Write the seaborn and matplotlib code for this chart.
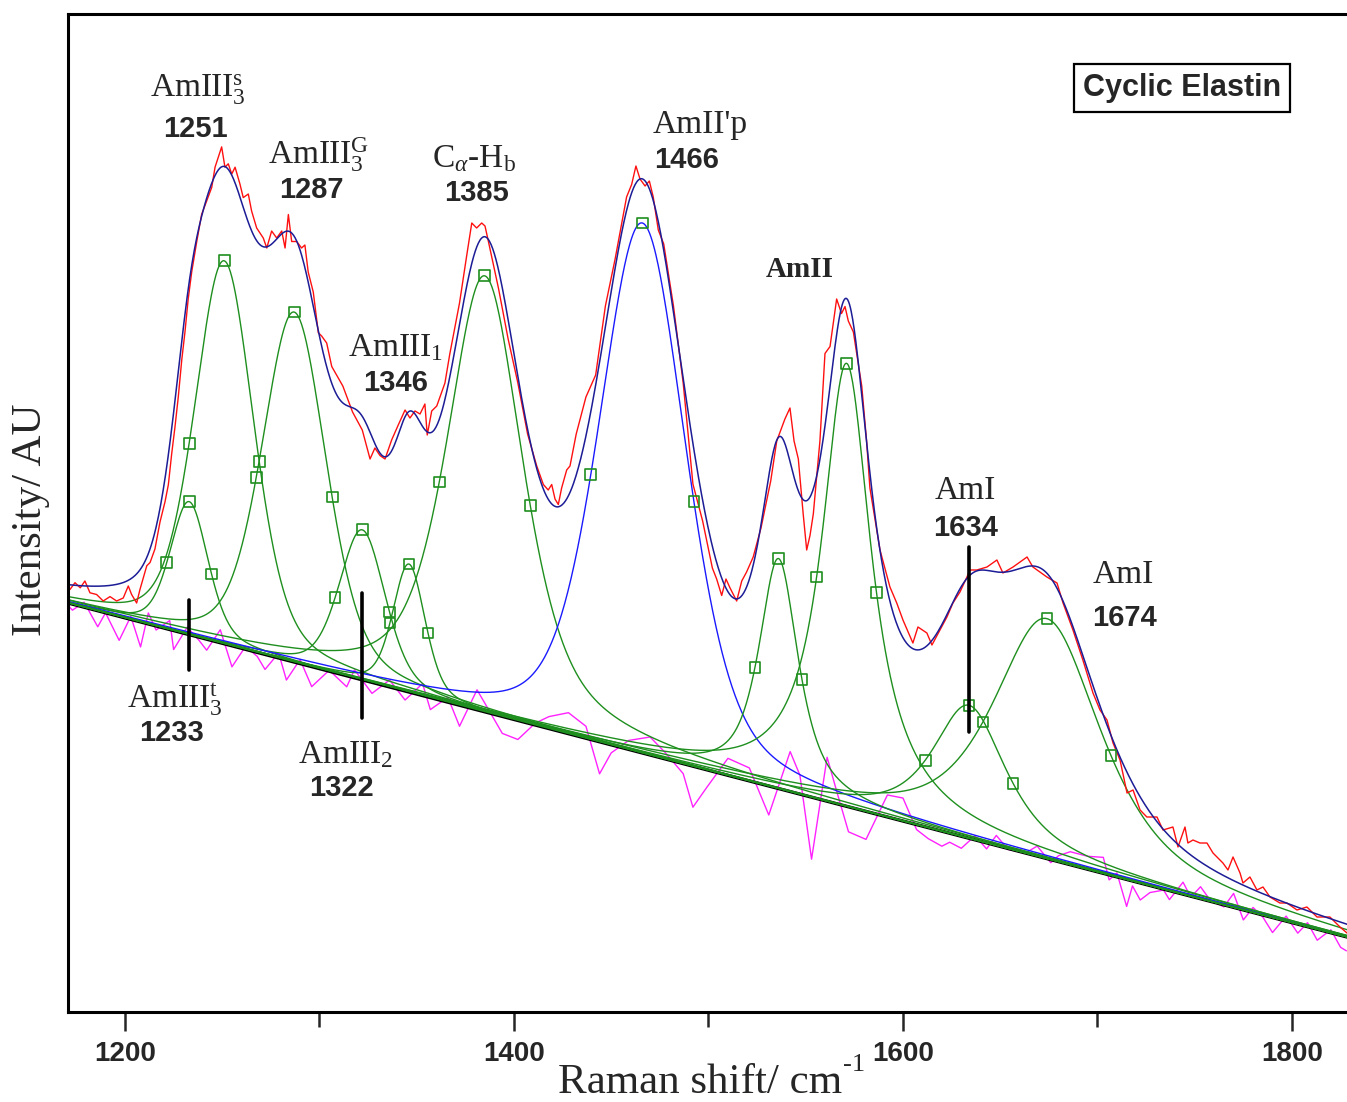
import numpy as np
import pandas as pd
import matplotlib
matplotlib.use("Agg")
import matplotlib.pyplot as plt
import seaborn as sns

# ---------------- data ----------------
peak_centers = [1233, 1251, 1287, 1322, 1346, 1385, 1466, 1536, 1571, 1634, 1674]
peak_heights = [13.3, 38.3, 35.0, 15.0, 12.8, 43.6, 53.0, 23.0, 44.3, 13.3, 24.0]
peak_hwhm = [11.5, 18.0, 19.5, 14.0, 9.8, 23.4, 26.5, 12.1, 15.4, 22.6, 32.9]
peak_lorentz_fraction = [0.35, 0.35, 0.35, 0.35, 0.35, 0.6, 0.37, 0.8, 1.0, 0.8, 0.7]
peak_is_blue = [False, False, False, False, False, False, True, False, False, False, False]

baseline_x = [1170.7, 1828.3]
baseline_y = [40.9, 7.5]

# measured spectrum (red trace): Raman shift / cm-1 and intensity
spectrum_x = [
    1171.7, 1174.3, 1177.0, 1179.4, 1182.0, 1185.4, 1188.8, 1192.3, 1195.7, 1199.1,
    1201.7, 1203.4, 1206.0, 1207.7, 1211.2, 1212.9, 1215.4, 1218.0, 1220.6, 1222.3,
    1224.0, 1225.7, 1227.4, 1229.2, 1230.8, 1232.5, 1234.3, 1236.9, 1239.4, 1242.0,
    1244.6, 1246.3, 1248.0, 1249.7, 1251.4, 1253.1, 1254.9, 1256.6, 1259.1, 1260.8,
    1263.4, 1265.1, 1267.7, 1271.1, 1272.9, 1275.4, 1278.0, 1280.6, 1282.3, 1284.0,
    1285.7, 1288.3, 1290.8, 1292.5, 1294.2, 1296.8, 1299.4, 1301.1, 1303.7, 1306.3,
    1312.0, 1317.0, 1322.0, 1326.0, 1328.5, 1331.1, 1333.7, 1337.1, 1340.5, 1344.0,
    1346.5, 1349.1, 1351.7, 1354.2, 1355.4, 1357.7, 1360.3, 1364.5, 1367.0, 1372.0,
    1375.7, 1378.3, 1380.8, 1383.4, 1385.1, 1386.8, 1392.0, 1397.0, 1402.0, 1407.0,
    1411.7, 1415.1, 1417.6, 1419.4, 1421.1, 1422.8, 1424.5, 1427.1, 1428.8, 1432.0,
    1437.0, 1442.0, 1447.0, 1452.0, 1457.9, 1460.5, 1462.7, 1464.8, 1467.4, 1469.6,
    1471.6, 1474.2, 1477.0, 1482.0, 1487.0, 1492.0, 1497.0, 1502.0, 1504.2, 1506.8,
    1509.0, 1511.1, 1514.5, 1517.1, 1519.6, 1523.0, 1527.0, 1532.0, 1535.1, 1539.3,
    1541.9, 1544.0, 1546.2, 1548.7, 1550.5, 1552.2, 1553.9, 1557.3, 1559.9, 1562.5,
    1565.9, 1568.4, 1570.2, 1571.9, 1574.5, 1576.2, 1578.8, 1581.3, 1583.0, 1588.2,
    1593.3, 1596.8, 1600.0, 1605.1, 1607.7, 1612.3, 1614.9, 1619.0, 1622.6, 1625.7,
    1629.3, 1632.9, 1634.4, 1638.0, 1643.2, 1648.3, 1651.4, 1656.6, 1663.8, 1666.8,
    1674.0, 1679.2, 1682.3, 1687.4, 1692.5, 1697.7, 1701.3, 1704.9, 1708.0, 1711.6,
    1715.2, 1718.3, 1721.9, 1725.4, 1730.6, 1733.7, 1738.8, 1741.4, 1745.0, 1746.5,
    1749.1, 1752.7, 1756.3, 1759.4, 1764.5, 1767.1, 1769.7, 1773.3, 1774.8, 1778.4,
    1782.0, 1785.1, 1788.7, 1793.8, 1797.4, 1802.6, 1807.7, 1812.9, 1819.5, 1824.7,
    1828.3,
]
spectrum_y = [
    42.25, 42.93, 42.42, 43.10, 41.92, 41.75, 41.10, 41.54, 41.10, 41.40,
    42.60, 41.75, 40.90, 42.25, 44.62, 44.95, 46.30, 49.00, 51.04, 52.73,
    55.80, 58.50, 61.50, 65.23, 67.93, 71.30, 74.00, 77.05, 79.75, 81.10,
    82.46, 84.48, 85.50, 86.51, 84.48, 84.82, 83.80, 84.48, 82.80, 81.44,
    81.80, 80.10, 78.40, 77.40, 76.40, 78.10, 77.40, 78.10, 76.40, 79.75,
    77.05, 77.05, 76.40, 76.70, 74.00, 72.00, 67.93, 67.60, 66.90, 64.55,
    62.60, 60.00, 58.20, 55.30, 56.40, 55.65, 55.30, 57.20, 58.70, 60.20,
    59.40, 60.10, 59.80, 60.80, 57.70, 60.10, 60.60, 62.90, 65.80, 70.90,
    75.65, 78.90, 78.40, 78.90, 78.60, 77.10, 72.40, 67.30, 62.90, 57.80,
    54.60, 52.75, 52.20, 52.75, 51.30, 50.75, 52.40, 54.20, 54.60, 57.80,
    61.50, 63.70, 70.60, 75.30, 81.50, 82.75, 84.60, 83.30, 82.60, 83.10,
    81.50, 78.20, 76.80, 70.60, 62.90, 52.80, 49.10, 44.40, 43.30, 41.65,
    43.30, 42.40, 41.10, 43.10, 44.00, 45.50, 48.40, 53.10, 57.10, 59.30,
    60.40, 57.10, 55.30, 49.80, 46.20, 47.65, 49.80, 57.10, 65.85, 66.55,
    71.30, 69.85, 70.55, 69.10, 68.00, 65.85, 62.60, 57.10, 52.40, 46.20,
    42.50, 40.90, 39.20, 36.90, 38.50, 37.90, 36.70, 38.20, 39.50, 40.90,
    42.00, 43.50, 44.20, 44.20, 44.50, 45.20, 43.90, 44.50, 45.50, 44.50,
    43.50, 42.90, 40.90, 38.20, 35.20, 31.90, 30.20, 29.20, 26.90, 25.20,
    21.90, 22.20, 20.20, 19.50, 19.50, 18.20, 18.50, 16.50, 18.50, 16.90,
    17.20, 16.90, 16.90, 15.90, 14.90, 14.20, 15.50, 13.90, 12.90, 13.50,
    12.20, 12.50, 11.50, 10.90, 10.90, 10.20, 10.50, 9.50, 9.50, 8.50,
    7.90,
]

# fit residual (magenta trace), shown about the baseline
residual_x = [
    1171, 1173, 1179, 1186, 1190, 1197, 1203, 1208, 1212, 1216,
    1223, 1225, 1232, 1238, 1242, 1249, 1255, 1262, 1268, 1272,
    1279, 1283, 1290, 1296, 1305, 1314, 1318, 1327, 1336, 1344,
    1353, 1357, 1366, 1372, 1381, 1387, 1394, 1402, 1411, 1418,
    1428, 1437, 1444, 1450, 1459, 1470, 1478, 1487, 1492, 1499,
    1510, 1521, 1531, 1542, 1547, 1553, 1561, 1566, 1572, 1581,
    1592, 1600, 1607, 1613, 1620, 1624, 1630, 1637, 1643, 1648,
    1654, 1663, 1669, 1676, 1680, 1686, 1695, 1703, 1706, 1710,
    1715, 1718, 1722, 1727, 1734, 1737, 1744, 1748, 1753, 1758,
    1765, 1770, 1775, 1780, 1785, 1790, 1797, 1803, 1808, 1813,
    1820, 1825, 1828,
]
residual_y = [
    -0.3, -0.6, 0.5, -1.6, 0.0, -2.4, 0.3, -2.5, 1.1, -0.4,
    0.9, -1.9, 0.7, -0.3, -1.1, 1.3, -2.1, 0.3, -0.4, -1.5,
    0.5, -2.0, 0.4, -2.0, 0.1, -1.1, 0.8, -1.1, 0.7, -0.9,
    1.2, -1.2, 0.5, -2.1, 2.0, 0.3, -1.7, -1.9, 0.2, 1.2,
    2.1, 1.2, -3.2, -0.8, 0.9, 1.8, 0.6, -1.0, -4.1, -1.8,
    1.7, 1.3, -2.9, 4.0, 1.9, -6.2, 4.4, 1.2, -2.5, -2.8,
    2.2, 2.3, -0.5, -1.1, -1.5, -0.9, -1.2, 0.4, -0.6, 1.0,
    -0.1, 0.0, 1.0, -0.3, 0.6, 1.3, 1.3, 1.6, -0.5, 0.4,
    -2.7, -0.5, -1.7, -0.7, -0.1, -0.9, 1.2, -0.1, 1.2, 0.1,
    -0.2, 1.4, -1.0, 0.5, -0.2, -1.5, 0.5, -0.9, 0.4, -1.1,
    0.3, -1.2, -1.4,
]

x_ticks_major = [1200, 1400, 1600, 1800]
x_ticks_minor = [1300, 1500, 1700]

# ---------------- style ----------------
sns.set_style("white")
plt.rcParams["font.family"] = ["Liberation Sans", "DejaVu Sans"]
plt.rcParams["mathtext.fontset"] = "custom"
plt.rcParams["mathtext.rm"] = "Liberation Serif"
plt.rcParams["mathtext.it"] = "Liberation Serif:italic"
plt.rcParams["mathtext.bf"] = "Liberation Serif:bold"

W, H = 1347, 1102
fig = plt.figure(figsize=(W / 100, H / 100), dpi=100)
ax = fig.add_axes([68 / W, 1 - 1012 / H, 1 - 68 / W, (1012 - 14) / H])

XMIN, XMAX = 1170.7, 1828.3
xg = np.linspace(XMIN, XMAX, 1600)
base = np.interp(xg, baseline_x, baseline_y)


def profile(x, c, h, w, eta):
    u = ((np.asarray(x) - c) / w) ** 2
    return h * (eta / (1 + u) + (1 - eta) * np.exp(-np.log(2) * u))


GREEN = "#1e8f1e"
BLUE = "#1a1aff"
NAVY = "#1c1c96"
RED = "#ff1010"
MAGENTA = "#ff22ff"

# residual (magenta) drawn around the baseline
res_x = np.array(residual_x, dtype=float)
res_line = np.interp(res_x, baseline_x, baseline_y) + np.array(residual_y)
sns.lineplot(x=res_x, y=res_line, ax=ax, color=MAGENTA, linewidth=1.0,
             estimator=None, sort=False, legend=False)

# baseline
sns.lineplot(x=np.array(baseline_x), y=np.array(baseline_y), ax=ax, color="black",
             linewidth=2.4, estimator=None, sort=False, legend=False)

# components
total = base.copy()
for c, h, w, eta, isblue in zip(peak_centers, peak_heights, peak_hwhm,
                                peak_lorentz_fraction, peak_is_blue):
    comp = profile(xg, c, h, w, eta)
    total = total + comp
    sns.lineplot(x=xg, y=base + comp, ax=ax, color=BLUE if isblue else GREEN,
                 linewidth=1.0, estimator=None, sort=False, legend=False)

# measured spectrum and total fit
sns.lineplot(x=np.array(spectrum_x), y=np.array(spectrum_y), ax=ax,
             color=RED, linewidth=1.0, estimator=None, sort=False, legend=False)
sns.lineplot(x=xg, y=total, ax=ax, color=NAVY, linewidth=1.1,
             estimator=None, sort=False, legend=False)

# square markers at the centre and half-height points of each component
mx, my = [], []
for c, h, w, eta in zip(peak_centers, peak_heights, peak_hwhm, peak_lorentz_fraction):
    for xx in (c - w, c, c + w):
        mx.append(xx)
        my.append(float(np.interp(xx, baseline_x, baseline_y)) + float(profile(xx, c, h, w, eta)))
sns.scatterplot(x=mx, y=my, ax=ax, marker="s", s=60, facecolor="none",
                edgecolor=GREEN, linewidth=1.2, legend=False, zorder=5)

# vertical marker bars
for xc, (y0, y1) in {1233: (34.2, 41.2), 1322: (29.4, 41.9), 1634: (28.0, 46.5)}.items():
    ax.plot([xc, xc], [y0, y1], color="black", linewidth=2.6, zorder=6)

# axes styling
ax.set_xlim(XMIN, XMAX)
ax.set_ylim(0, 99.8)
ax.set_yticks([])
ax.set_xticks(x_ticks_major)
ax.set_xticks(x_ticks_minor, minor=True)
ax.set_xticklabels([str(t) for t in x_ticks_major])
ax.tick_params(axis="x", which="major", length=14, width=1.8, direction="out",
               pad=7, labelsize=20, bottom=True)
ax.tick_params(axis="x", which="minor", length=11, width=1.8, direction="out", bottom=True)
for lbl in ax.get_xticklabels():
    lbl.set_fontweight("bold")
for side in ("top", "bottom", "left"):
    ax.spines[side].set_linewidth(2.2)
    ax.spines[side].set_color("black")
ax.spines["right"].set_visible(False)
ax.set_xlabel("")
ax.set_ylabel("")

SERIF = ["Liberation Serif", "DejaVu Serif"]


def ftxt(x, y, s, **kw):
    fig.text(x / W, 1 - y / H, s, **kw)


# axis titles
ftxt(700, 1093, "Raman shift/ cm", ha="center", va="baseline", fontsize=31, family=SERIF)
ftxt(843, 1071, "-1", ha="left", va="baseline", fontsize=19, family=SERIF)
ftxt(31, 520, "Intensity/ AU", ha="center", va="center", rotation=90,
     fontsize=31, family=SERIF)

# band labels (serif) and wavenumbers (bold sans)
serif_labels = [
    (198, 97, r"AmIII$_3^{\mathrm{s}}$"),
    (318, 164, r"AmIII$_3^{\mathrm{G}}$"),
    (474, 167, r"C$_{\alpha}$-H$_{\mathrm{b}}$"),
    (700, 133, "AmII'p"),
    (395, 356, r"AmIII$_1$"),
    (965, 499, "AmI"),
    (1123, 583, "AmI"),
    (175, 708, r"AmIII$_3^{\mathrm{t}}$"),
    (345, 763, r"AmIII$_2$"),
]
for x, y, s in serif_labels:
    ftxt(x, y, s, ha="center", va="baseline", fontsize=24, family=SERIF)
ftxt(800, 277, "AmII", ha="center", va="baseline", fontsize=21, family=SERIF,
     fontweight="bold")

number_labels = [
    (195, 137, "1251"), (311, 198, "1287"), (477, 201, "1385"), (687, 168, "1466"),
    (396, 391, "1346"), (966, 536, "1634"), (1125, 626, "1674"),
    (172, 741, "1233"), (341, 796, "1322"),
]
for x, y, s in number_labels:
    ftxt(x, y, s, ha="center", va="baseline", fontsize=21, fontweight="bold")

ftxt(1182, 88, "Cyclic Elastin", ha="center", va="center", fontsize=22, fontweight="bold",
     bbox=dict(boxstyle="square,pad=0.3", fc="white", ec="black", lw=1.6))

fig.savefig("out.png", dpi=100)
